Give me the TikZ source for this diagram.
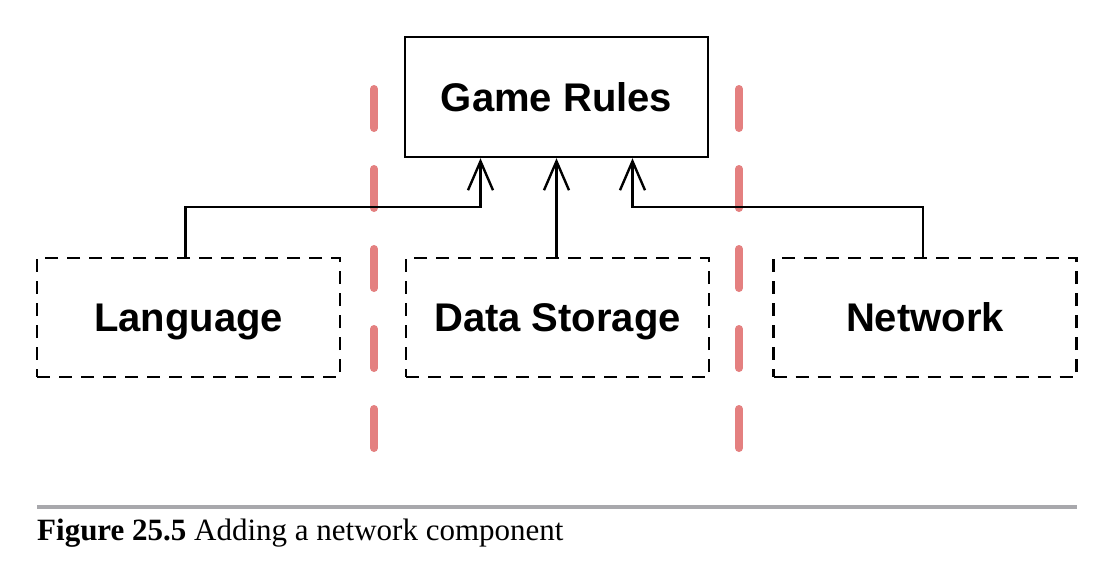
\documentclass[tikz,border=0pt]{standalone}
\usepackage{fontspec}
\setmainfont{Liberation Serif}
\newfontfamily\boxfont{Liberation Sans}
\usetikzlibrary{arrows.meta}
\definecolor{sepred}{RGB}{228,128,128}
\definecolor{rulegray}{RGB}{168,168,172}
\tikzset{
  boxtext/.style={inner sep=0pt, text height=28pt, text depth=0pt, font=\boxfont\fontsize{40}{42}\selectfont\bfseries},
  solidbox/.style={boxtext, draw=black, line width=2.4pt, minimum width=303pt, minimum height=120pt},
  dashbox/.style={boxtext, draw=black, line width=2.6pt, dash pattern=on 13pt off 9pt, minimum width=303pt, minimum height=119pt},
  arr/.style={line width=2.4pt, -{Straight Barb[length=29pt,width=25pt,line width=2.4pt]}},
  sep/.style={draw=sepred, line width=8pt, line cap=round, dash pattern=on 39pt off 41pt},
}
\begin{document}
\begin{tikzpicture}[x=1pt,y=-1pt]
\useasboundingbox (0,0) rectangle (1112,568);
\fill[white] (0,0) rectangle (1112,568);
% separators
\coordinate (s1a) at (374,89); \coordinate (s1b) at (374,452);
\coordinate (s2a) at (739,89); \coordinate (s2b) at (739,452);
\draw[sep] (s1a) -- (s1b);
\draw[sep] (s2a) -- (s2b);
% boxes
\node[solidbox] (gr) at (556.5,97) {Game Rules};
\node[dashbox] (lang) at (188.5,317.5) {Language};
\node[dashbox] (ds) at (557.5,317.5) {Data Storage};
\node[dashbox] (net) at (925,317.5) {Network};
% arrows
\draw[arr] ([xshift=-3pt]lang.north) -- ++(0,-50) -| ([xshift=-76pt]gr.south);
\draw[arr] ([xshift=-1pt]ds.north) -- ([xshift=0pt]gr.south);
\draw[arr] ([xshift=-2pt]net.north) -- ++(0,-50) -| ([xshift=76pt]gr.south);
% caption
\coordinate (r1) at (37,507); \coordinate (r2) at (1077,507);
\draw[rulegray, line width=4pt] (r1) -- (r2);
\node[anchor=base west, inner sep=0pt, font=\fontsize{31}{33}\selectfont] (cap) at (37,540) {\textbf{Figure 25.5} Adding a network component};
\end{tikzpicture}
\end{document}
